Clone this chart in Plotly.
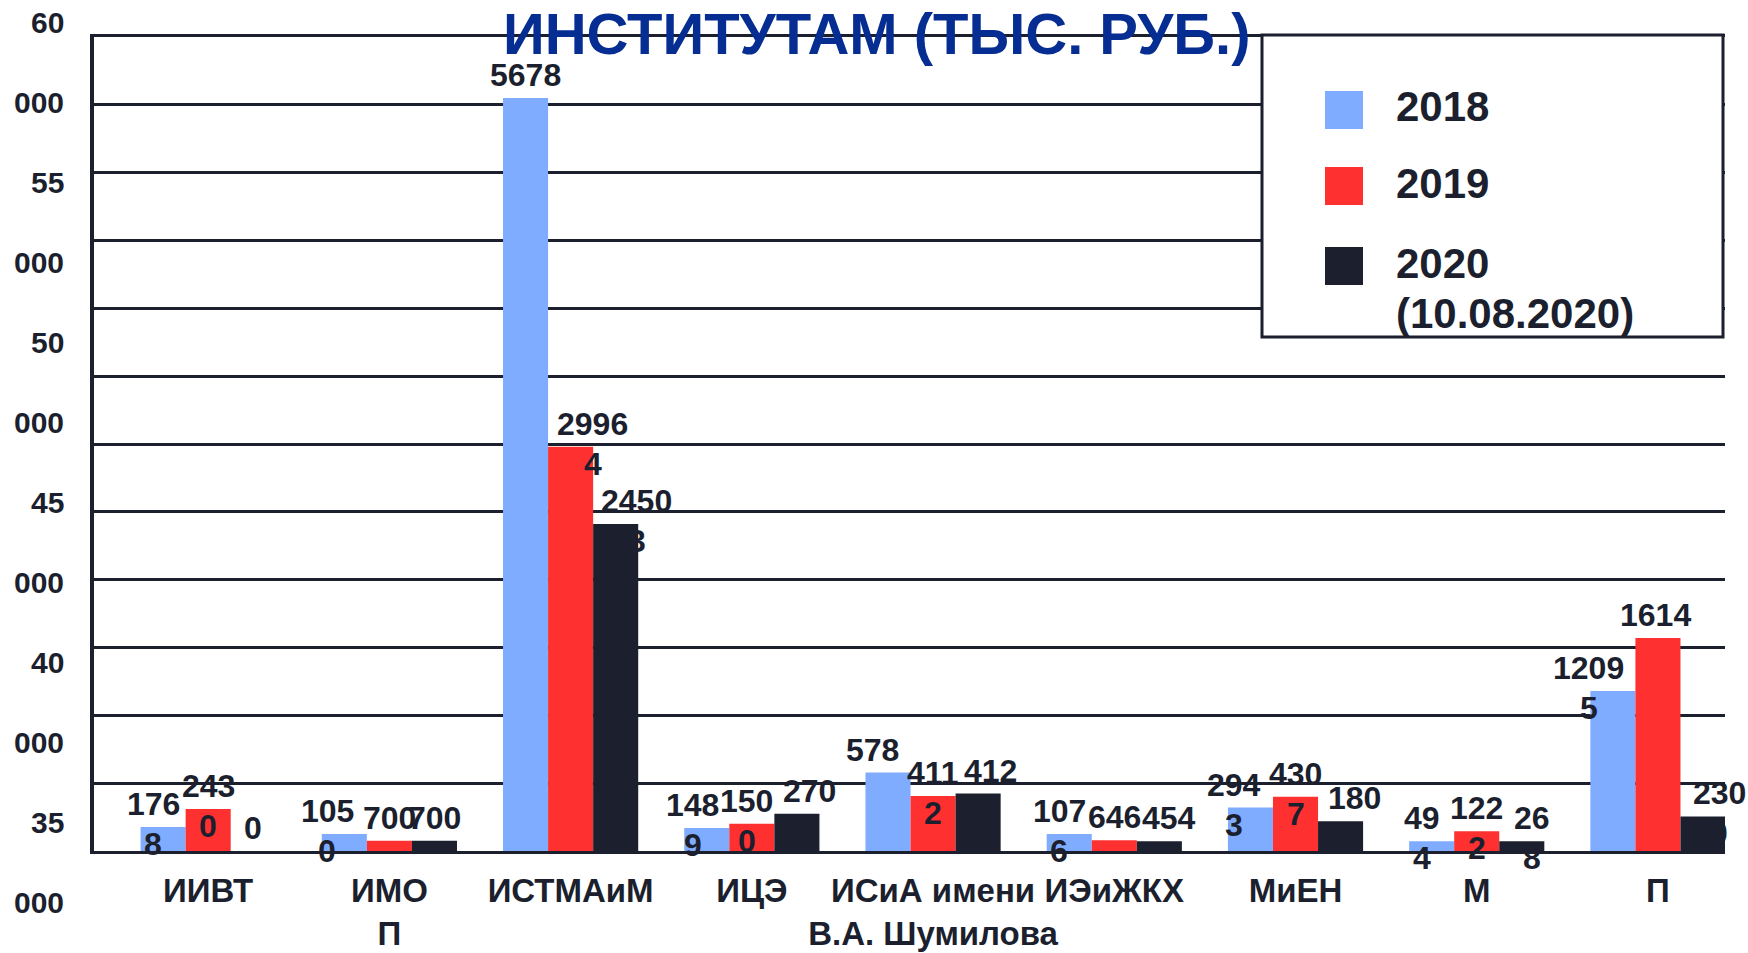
import plotly.graph_objects as go

# ---------------- data ----------------
categories = ["ИИВТ", "ИМО<br>П", "ИСТМАиМ", "ИЦЭ", "ИСиА имени<br>В.А. Шумилова",
              "ИЭиЖКХ", "МиЕН", "М", "П"]
series_names = ["2018", "2019", "2020"]
values_2018 = [1768, 1250, 55500, 1700, 5780, 1250, 3200, 720, 11800]
values_2019 = [3100, 750, 29800, 2000, 4050, 800, 4000, 1450, 15700]
values_2020 = [0, 750, 24100, 2750, 4230, 720, 2200, 720, 2550]
labels_2018 = ["176<br>8", "105<br>0", "5678", "148<br>9", "578", "107<br>6", "294<br>3", "49<br>4", "1209<br>5"]
labels_2019 = ["243<br>0", "700", "2996<br>4", "150<br>0", "411<br>2", "646", "430<br>7", "122<br>2", "1614"]
labels_2020 = ["0", "700", "2450<br>3", "270", "412", "454", "180", "26<br>8", "230<br>0"]
y_label_lines = ["60", "000", "55", "000", "50", "000", "45", "000", "40", "000", "35", "000"]
legend_lines = [["2018"], ["2019"], ["2020", "(10.08.2020)"]]
title_text = "ИНСТИТУТАМ (ТЫС. РУБ.)"

# ---------------- style ----------------
W, H = 1748, 953
L, R, T, B = 94, 23, 37, 102
PW, PH = W - L - R, H - T - B
DARK = "#1b1f2e"
COLORS = ["#80acff", "#ff3030", DARK]
FONT = "Liberation Sans, Arial, sans-serif"
BARGAP = 0.254
LABEL_SIZE = 32
label_nudge = [[-10, -17, 0, -14, -15, -10, -16, -10, -24],
               [0, 0, 22, -5, 0, 0, 0, 0, -2],
               [0, 0, 21, 13, 12, 10, 14, 10, 16]]


def px_x(px):
    return (px - L) / PW


def px_y(py):
    return (T + PH - py) / PH


fig = go.Figure()
all_values = [values_2018, values_2019, values_2020]
all_labels = [labels_2018, labels_2019, labels_2020]
for name, vals, col in zip(series_names, all_values, COLORS):
    fig.add_trace(go.Bar(x=categories, y=vals, name=name, marker=dict(color=col, line=dict(width=0)),
                         showlegend=False, hoverinfo="x+y+name"))

annotations = []
bar_w = (1 - BARGAP) / 3
for j, (vals, labs) in enumerate(zip(all_values, all_labels)):
    for i, (v, lab) in enumerate(zip(vals, labs)):
        parts = lab.split("<br>")
        xpos = i + (j - 1) * bar_w
        annotations.append(dict(x=xpos, y=v, xref="x", yref="y", text=parts[0], showarrow=False,
                                xanchor="center", yanchor="bottom", yshift=3, xshift=label_nudge[j][i],
                                font=dict(size=LABEL_SIZE, color=DARK, family=FONT, weight="bold")))
        if len(parts) > 1:
            annotations.append(dict(x=xpos, y=v, xref="x", yref="y", text=parts[1], showarrow=False,
                                    xanchor="center", yanchor="top", yshift=3, xshift=label_nudge[j][i],
                                    font=dict(size=LABEL_SIZE, color=DARK, family=FONT, weight="bold")))

# y-axis labels (wrapped, as in the original)
for k, t in enumerate(y_label_lines):
    annotations.append(dict(x=px_x(66), y=px_y(22.5 + 80 * k), xref="paper", yref="paper", text=t,
                            showarrow=False, xanchor="right", yanchor="middle",
                            font=dict(size=30, color=DARK, family=FONT, weight="bold")))

# title
annotations.append(dict(x=px_x(877), y=px_y(33), xref="paper", yref="paper", text=title_text,
                        showarrow=False, xanchor="center", yanchor="middle",
                        font=dict(size=58, color="#062d91", family=FONT, weight="bold")))

# custom legend
shapes = [dict(type="rect", xref="paper", yref="paper", x0=px_x(1262), x1=px_x(1723),
               y0=px_y(337), y1=px_y(35), fillcolor="white", line=dict(color=DARK, width=3),
               layer="above")]
legend_rows = [110, 186, 266]
for r, (lines, col, cy) in enumerate(zip(legend_lines, COLORS, legend_rows)):
    shapes.append(dict(type="rect", xref="paper", yref="paper", x0=px_x(1325), x1=px_x(1363),
                       y0=px_y(cy + 19), y1=px_y(cy - 19), fillcolor=col, line=dict(width=0),
                       layer="above"))
    for li, txt in enumerate(lines):
        annotations.append(dict(x=px_x(1394), y=px_y(cy - 3 + 51 * li), xref="paper", yref="paper",
                                text=txt, showarrow=False, xanchor="left", yanchor="middle",
                                font=dict(size=42, color=DARK, family=FONT, weight="bold")))

fig.update_layout(
    width=W, height=H,
    margin=dict(l=L, r=R, t=T, b=B, pad=0, autoexpand=False),
    paper_bgcolor="white", plot_bgcolor="white",
    barmode="group", bargap=BARGAP, bargroupgap=0,
    font=dict(family=FONT, color=DARK),
    annotations=annotations, shapes=shapes,
    showlegend=False,
)
fig.update_xaxes(range=[-0.63, 8.37], showline=True, linecolor=DARK, linewidth=3, mirror=True,
                 showgrid=False, ticks="", ticklabelstandoff=8, tickangle=0, automargin=False,
                 tickfont=dict(size=33, color=DARK, family=FONT, weight="bold"))
fig.update_yaxes(range=[0, 60000], dtick=5000, showgrid=True, gridcolor=DARK, gridwidth=2.5,
                 showline=True, linecolor=DARK, linewidth=4, zeroline=False, automargin=False,
                 showticklabels=False, ticks="")

fig.write_html("out.html", config={"displayModeBar": False},
               post_script="document.body.style.margin='0';")
